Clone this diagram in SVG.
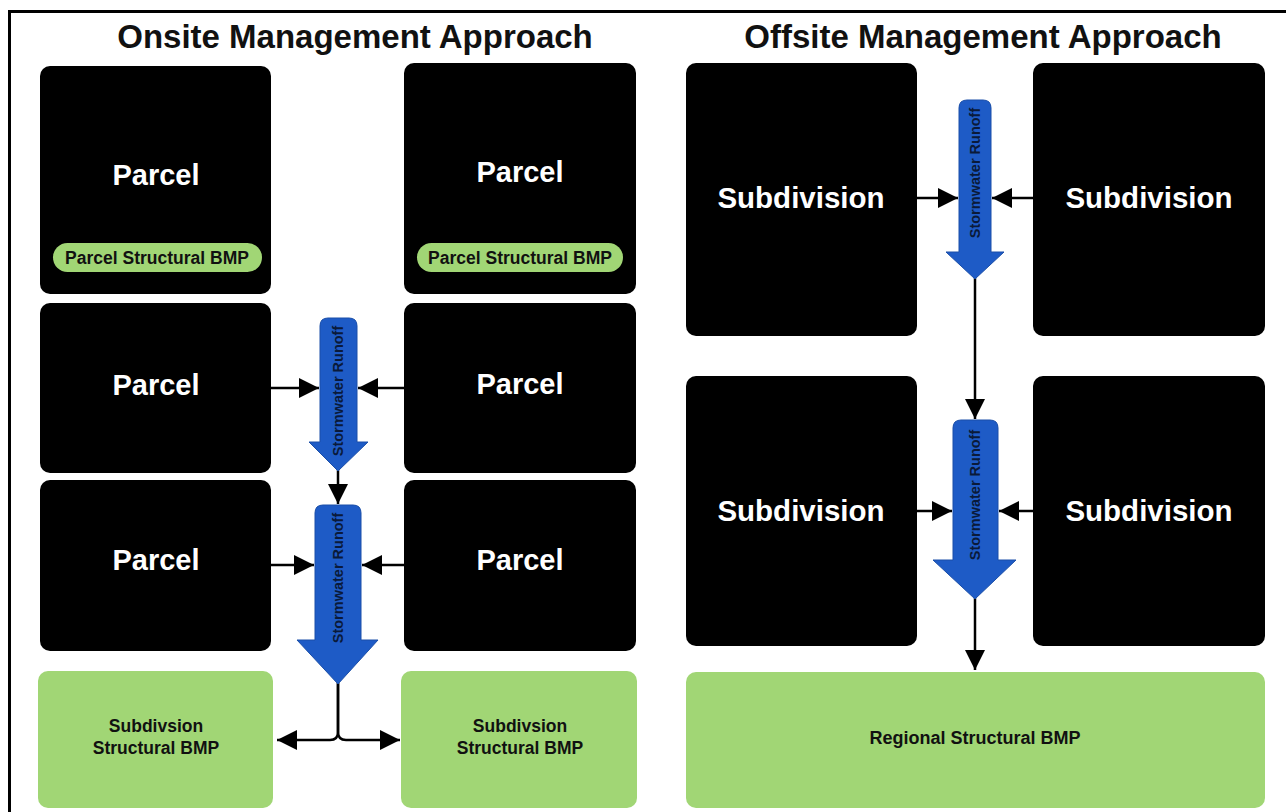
<svg xmlns="http://www.w3.org/2000/svg" width="1286" height="812" viewBox="0 0 1286 812">
<style>
.box{fill:#000;}
.grn{fill:#a1d675;}
.blue{fill:#1e5bc6;stroke:#1a4ea8;stroke-width:1;}
.title{font-family:"Liberation Sans",Arial,sans-serif;font-weight:bold;font-size:33px;fill:#111;text-anchor:middle;}
.wt{font-family:"Liberation Sans",Arial,sans-serif;font-weight:bold;fill:#fff;text-anchor:middle;}
.bt{font-family:"Liberation Sans",Arial,sans-serif;font-weight:bold;fill:#111;text-anchor:middle;}
.rt{font-family:"Liberation Sans",Arial,sans-serif;font-weight:bold;font-size:14.5px;fill:#0a1a3a;text-anchor:middle;}
.ln{fill:none;stroke:#000;stroke-width:2.5;}
</style>
<defs>
<marker id="ah" viewBox="0 0 10 10" refX="10" refY="5" markerWidth="9" markerHeight="8" markerUnits="strokeWidth" orient="auto">
<path d="M0,0 L10,5 L0,10 z" fill="#000"/>
</marker>
</defs>
<rect width="1286" height="812" fill="#fff"/>
<path d="M9.5,812 V11.5 H1286" fill="none" stroke="#000" stroke-width="3"/>
<text class="title" x="355" y="48">Onsite Management Approach</text>
<text class="title" x="983" y="48">Offsite Management Approach</text>

<g id="p1"><rect class="box" x="40" y="66" width="231" height="228" rx="10"/><text class="wt" x="156" y="185" font-size="29">Parcel</text>
<rect class="grn" x="53" y="243" width="209" height="29" rx="14.5"/><text class="bt" x="157" y="264" font-size="17.5">Parcel Structural BMP</text></g>
<g id="p2"><rect class="box" x="404" y="63" width="232" height="231" rx="10"/><text class="wt" x="520" y="182" font-size="29">Parcel</text>
<rect class="grn" x="417" y="243" width="206" height="29" rx="14.5"/><text class="bt" x="520" y="264" font-size="17.5">Parcel Structural BMP</text></g>
<g id="p3"><rect class="box" x="40" y="303" width="231" height="170" rx="10"/><text class="wt" x="156" y="395" font-size="29">Parcel</text></g>
<g id="p4"><rect class="box" x="404" y="303" width="232" height="170" rx="10"/><text class="wt" x="520" y="394" font-size="29">Parcel</text></g>
<g id="p5"><rect class="box" x="40" y="480" width="231" height="171" rx="10"/><text class="wt" x="156" y="570" font-size="29">Parcel</text></g>
<g id="p6"><rect class="box" x="404" y="480" width="232" height="171" rx="10"/><text class="wt" x="520" y="570" font-size="29">Parcel</text></g>
<g id="s1"><rect class="grn" x="38" y="671" width="235" height="137" rx="10"/><text class="bt" x="156" y="732" font-size="17.5">Subdivsion</text><text class="bt" x="156" y="754" font-size="17.5">Structural BMP</text></g>
<g id="s2"><rect class="grn" x="401" y="671" width="236" height="137" rx="10"/><text class="bt" x="520" y="732" font-size="17.5">Subdivsion</text><text class="bt" x="520" y="754" font-size="17.5">Structural BMP</text></g>

<g id="d1"><rect class="box" x="686" y="63" width="231" height="273" rx="10"/><text class="wt" x="801" y="208" font-size="29.5">Subdivision</text></g>
<g id="d2"><rect class="box" x="1033" y="63" width="232" height="273" rx="10"/><text class="wt" x="1149" y="208" font-size="29.5">Subdivision</text></g>
<g id="d3"><rect class="box" x="686" y="376" width="231" height="270" rx="10"/><text class="wt" x="801" y="521" font-size="29.5">Subdivision</text></g>
<g id="d4"><rect class="box" x="1033" y="376" width="232" height="270" rx="10"/><text class="wt" x="1149" y="521" font-size="29.5">Subdivision</text></g>
<g id="r1"><rect class="grn" x="686" y="672" width="579" height="136" rx="10"/><text class="bt" x="975" y="744" font-size="18">Regional Structural BMP</text></g>

<g id="connectors">
<line class="ln" x1="271" y1="388" x2="319" y2="388" marker-end="url(#ah)"/>
<line class="ln" x1="404" y1="388" x2="358" y2="388" marker-end="url(#ah)"/>
<line class="ln" x1="271" y1="565" x2="314" y2="565" marker-end="url(#ah)"/>
<line class="ln" x1="404" y1="565" x2="362" y2="565" marker-end="url(#ah)"/>
<line class="ln" x1="338" y1="470" x2="338" y2="504" marker-end="url(#ah)"/>
<path class="ln" d="M338,683 V732 Q338,740 330,740 H277" marker-end="url(#ah)"/>
<path class="ln" d="M338,683 V732 Q338,740 346,740 H400" marker-end="url(#ah)"/>
<line class="ln" x1="917" y1="198" x2="958" y2="198" marker-end="url(#ah)"/>
<line class="ln" x1="1033" y1="198" x2="992" y2="198" marker-end="url(#ah)"/>
<line class="ln" x1="917" y1="511" x2="952" y2="511" marker-end="url(#ah)"/>
<line class="ln" x1="1033" y1="511" x2="999" y2="511" marker-end="url(#ah)"/>
<line class="ln" x1="975" y1="278" x2="975" y2="419" marker-end="url(#ah)"/>
<line class="ln" x1="975" y1="598" x2="975" y2="670" marker-end="url(#ah)"/>
</g>

<g id="b1"><path class="blue" d="M320,442 V326 Q320,318 328,318 H349 Q357,318 357,326 V442 H368 L338,471 L309,442 Z"/>
<text class="rt" transform="translate(343,391) rotate(-90)">Stormwater Runoff</text></g>
<g id="b2"><path class="blue" d="M315,640 V513 Q315,505 323,505 H353 Q361,505 361,513 V640 H378 L338,684 L297,640 Z"/>
<text class="rt" transform="translate(343,578) rotate(-90)">Stormwater Runoff</text></g>
<g id="b3"><path class="blue" d="M959,252 V108 Q959,100 967,100 H983 Q991,100 991,108 V252 H1004 L975,279 L946,252 Z"/>
<text class="rt" transform="translate(980,173) rotate(-90)">Stormwater Runoff</text></g>
<g id="b4"><path class="blue" d="M953,560 V428 Q953,420 961,420 H990 Q998,420 998,428 V560 H1016 L975,599 L933,560 Z"/>
<text class="rt" transform="translate(980,495) rotate(-90)">Stormwater Runoff</text></g>
</svg>
